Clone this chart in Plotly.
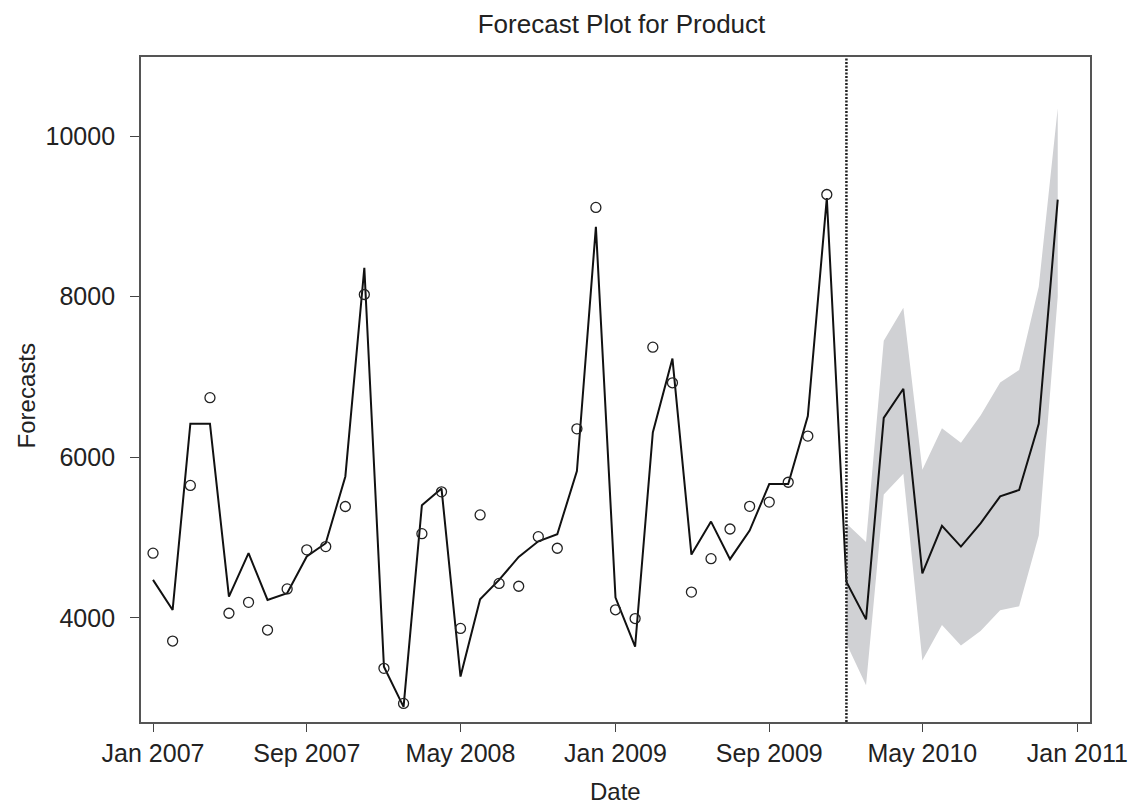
import pandas as pd
import plotly.graph_objects as go

# ---- data ----
hist_dates = pd.date_range("2007-01-01", periods=36, freq="MS")
fc_dates = pd.date_range("2010-01-01", periods=12, freq="MS")

observed = [4807, 3713, 5650, 6743, 4059, 4195, 3850, 4362, 4848, 4889, 5388, 8027,
            3373, 2936, 5050, 5570, 3870, 5283, 4430, 4395, 5012, 4868, 6355, 9111,
            4102, 3993, 7372, 6928, 4322, 4738, 5108, 5390, 5443, 5690, 6265, 9272]

fitted = [4474, 4100, 6419, 6419, 4266, 4807, 4224, 4308, 4765, 4931, 5762, 8360,
          3393, 2894, 5405, 5611, 3271, 4233, 4474, 4760, 4955, 5042, 5830, 8870,
          4255, 3642, 6310, 7230, 4790, 5200, 4732, 5088, 5667, 5667, 6514, 9229]

forecast = [4449, 3983, 6491, 6854, 4554, 5147, 4889, 5178, 5515, 5593, 6418, 9209]
upper = [5177, 4945, 7450, 7863, 5846, 6362, 6183, 6520, 6933, 7088, 8124, 10347]
lower = [3681, 3164, 5536, 5797, 3472, 3913, 3656, 3837, 4095, 4146, 5026, 8000]

title_text = "Forecast Plot for Product"
x_title = "Date"
y_title = "Forecasts"
y_ticks = [4000, 6000, 8000, 10000]

FONT = "Liberation Sans, Arial, sans-serif"

W, H = 1140, 805
L, R, T, B = 141, 1140 - 1102, 57, 805 - 722
PW, PH = W - L - R, H - T - B

fig = go.Figure()

# confidence band
fig.add_trace(go.Scatter(
    x=list(fc_dates) + list(fc_dates[::-1]),
    y=upper + lower[::-1],
    fill="toself", fillcolor="rgb(208,209,212)",
    line=dict(width=0), mode="lines", hoverinfo="skip", showlegend=False))

# fitted + forecast line
fig.add_trace(go.Scatter(
    x=list(hist_dates) + list(fc_dates),
    y=fitted + forecast,
    mode="lines", line=dict(color="#111111", width=2),
    showlegend=False))

# observed points
fig.add_trace(go.Scatter(
    x=hist_dates, y=observed, mode="markers",
    marker=dict(symbol="circle-open", size=10, color="#222222",
                line=dict(width=1.3, color="#222222")),
    showlegend=False))

# vertical dashed line at forecast start
fig.add_shape(type="line", xref="x", yref="paper",
              x0=fc_dates[0], x1=fc_dates[0], y0=0, y1=1,
              line=dict(color="#222222", width=2.5, dash="2px,1.5px"))

fig.update_layout(
    width=W, height=H,
    margin=dict(l=L, r=R, t=T, b=B),
    paper_bgcolor="white", plot_bgcolor="white",
    font=dict(family=FONT, size=25, color="#222222"),
    title=dict(text=title_text, x=(L + PW / 2) / W, xanchor="center",
               y=1 - 24 / H, yanchor="middle",
               font=dict(family=FONT, size=26, color="#222222")),
    showlegend=False,
)

fig.update_xaxes(
    type="date",
    range=["2006-12-13", "2011-01-21"],
    tick0="2007-01-01", dtick="M8", tickformat="%b %Y",
    ticks="outside", ticklen=8, tickwidth=1.3, tickcolor="#444444",
    showline=True, linecolor="#555555", linewidth=1.8, mirror=True,
    showgrid=False, zeroline=False,
    tickfont=dict(family=FONT, size=25, color="#222222"),
)
fig.update_yaxes(
    range=[2705, 10984],
    tickvals=y_ticks, ticktext=[str(v) for v in y_ticks],
    ticks="outside", ticklen=9, tickwidth=1.3, tickcolor="#444444",
    ticklabelstandoff=10,
    showline=True, linecolor="#555555", linewidth=1.8, mirror=True,
    showgrid=False, zeroline=False,
    tickfont=dict(family=FONT, size=25, color="#222222"),
)

fig.add_annotation(text=x_title, xref="paper", yref="paper",
                   x=0.5, y=-(792 - 722) / PH, xanchor="center", yanchor="middle",
                   showarrow=False, font=dict(family=FONT, size=24, color="#222222"))
fig.add_annotation(text=y_title, xref="paper", yref="paper",
                   x=(25 - L) / PW, y=(722 - 396) / PH, xanchor="center", yanchor="middle",
                   textangle=-90, showarrow=False,
                   font=dict(family=FONT, size=24, color="#222222"))

fig.write_html(
    "out.html",
    config={"displayModeBar": False},
    post_script="document.body.style.margin='0';document.body.style.overflow='hidden';",
)
